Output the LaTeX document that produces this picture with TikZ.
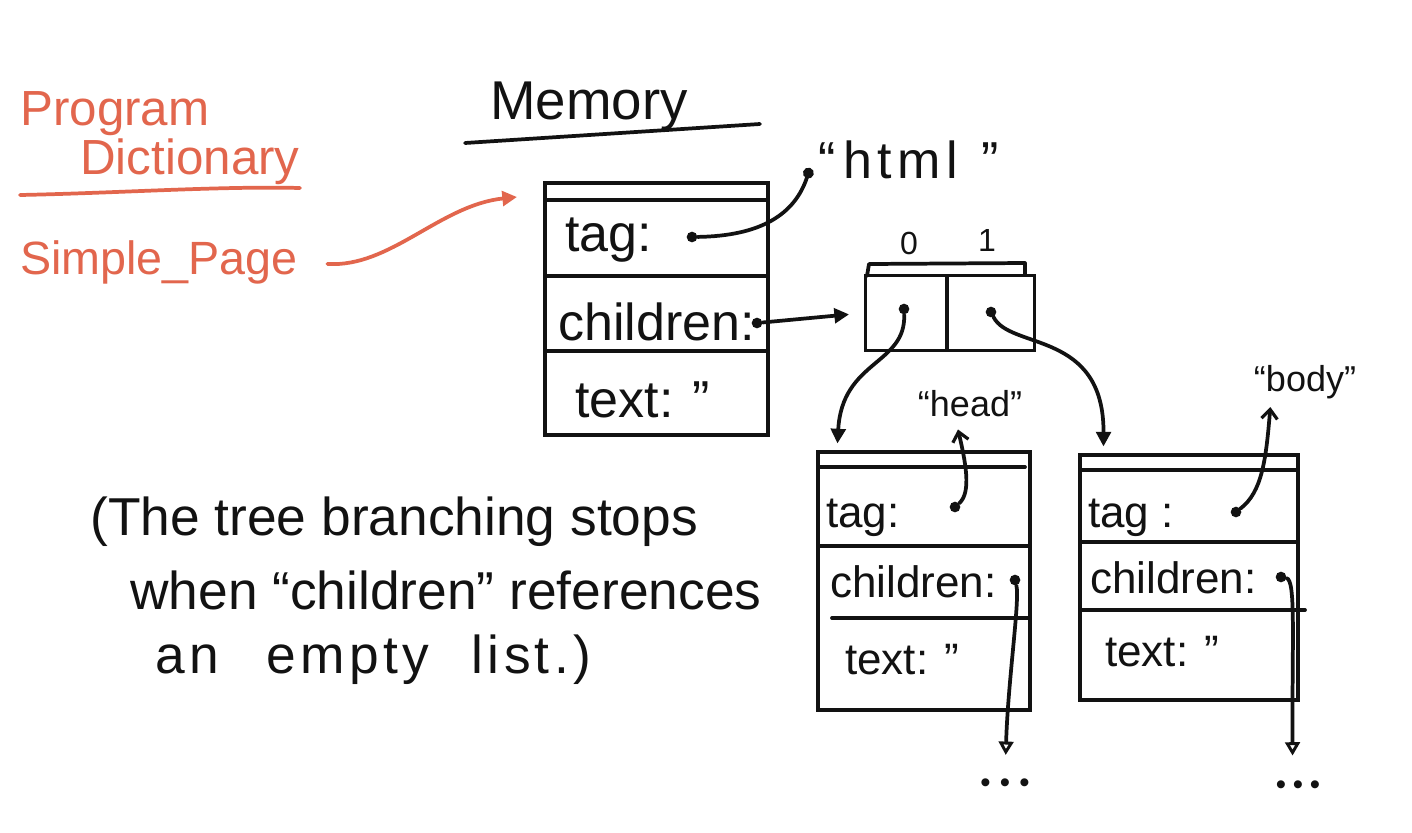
\documentclass[tikz,border=0pt]{standalone}
\usepackage{fontspec}
\setmainfont{Liberation Sans}
\usetikzlibrary{arrows.meta}
\definecolor{pen}{RGB}{18,18,18}
\definecolor{redpen}{RGB}{226,102,77}
\begin{document}
\begin{tikzpicture}[x=0.75pt,y=-0.75pt,
  ln/.style={line width=2.8pt, line cap=round, line join=round, draw=pen},
  rln/.style={line width=2.8pt, line cap=round, line join=round, draw=redpen},
  box/.style={draw=pen, line width=2.8pt, rectangle, inner sep=0pt},
  dotn/.style={circle, fill=pen, inner sep=0pt, minimum size=8pt},
  hand/.style={font={\fontsize{#1}{#1}\selectfont}, inner sep=0pt, text=pen},
  rhand/.style={font={\fontsize{#1}{#1}\selectfont}, inner sep=0pt, text=redpen},
  tri/.style={-{Triangle[length=11pt,width=11pt]}},
  otri/.style={-{Triangle[open,length=10pt,width=11pt,line width=2.2pt]}},
  barb/.style={-{Straight Barb[length=7pt,width=12pt,line width=2.4pt]}},
  dotend/.style={-{Circle[length=8pt]}}
]
\useasboundingbox[fill=white] (0,0) rectangle (1412,832);

% ---------- red program dictionary ----------
\node[rhand=37, anchor=west] (prog) at (20,114) {Program};
\node[rhand=37, anchor=west] (dict) at (80,162) {Dictionary};
\draw[rln] (20,195) .. controls (120,193) and (220,186) .. (300,188);
\node[rhand=35, anchor=west] (simple) at (20,262) {Simple\_Page};
\coordinate (memin) at (517,197);
\draw[rln, tri, shorten <=22pt] (simple.east) .. controls (390,268) and (440,205) .. (memin);

% ---------- memory title ----------
\node[hand=41, anchor=west] (memt) at (490,106) {Memory};
\draw[ln] (465,143) -- (760,124);

% ---------- main object ----------
\node[box, minimum width={223*0.75pt}, minimum height={252*0.75pt}] (mem) at (656.5,309) {};
\draw[ln] (545,200) -- (768,200);
\draw[ln] (545,276) -- (768,276);
\draw[ln] (545,351) -- (768,351);
\node[hand=39, anchor=west] (mtag) at (565,240) {tag:};
\node[hand=39, anchor=west] (mchild) at (558,322) {children:};
\node[hand=39, anchor=west] (mtext) at (575,400) {text: ”};
\node[dotn] (tagdot) at (692,237) {};
\node[dotn] (cdot) at (757,323) {};

\node[hand=39, anchor=west] (html) at (818,160) {“\kern6pt h\kern4pt t\kern4pt m\kern4pt l\kern18pt ”};
\draw[ln, dotend] (tagdot) .. controls (760,236) and (795,215) .. ([xshift=-6pt,yshift=-6pt]html.west);

% ---------- list ----------
\node[box, minimum width={169*0.75pt}, minimum height={75*0.75pt}] (arr) at (950,313) {};
\draw[ln] (867,276) -- (869,264) -- (1025,263) -- (1025,274);
\draw[ln] (947,276) -- (947,350);
\node[hand=24] (idx0) at (909,243) {0};
\node[hand=24] (idx1) at (987,240) {1};
\node[dotn] (d0) at (904,309) {};
\node[dotn] (d1) at (991,312) {};
\draw[ln, tri, shorten >=11pt] (cdot) -- (arr.west);

% ---------- head object ----------
\node[box, minimum width={212*0.75pt}, minimum height={258*0.75pt}] (head) at (924,581) {};
\draw[ln] (818,467) -- (1025,467);
\draw[ln] (818,546) -- (1030,546);
\draw[ln] (832,618) -- (1030,618);
\node[hand=33, anchor=west] (htag) at (826,518) {tag:};
\node[hand=33, anchor=west] (hchild) at (830,582) {children:};
\node[hand=33, anchor=west] (htext) at (845,660) {text: ”};
\node[dotn] (hdot) at (955,507) {};
\node[dotn] (hcdot) at (1015,580) {};
\node[hand=27] (headt) at (970,404) {“head”};

% ---------- body object ----------
\node[box, minimum width={218*0.75pt}, minimum height={245*0.75pt}] (body) at (1189,577.5) {};
\draw[ln] (1080,470) -- (1296,470);
\draw[ln] (1080,542) -- (1296,542);
\draw[ln] (1080,610) -- (1305,610);
\node[hand=33, anchor=west] (btag) at (1088,518) {tag :};
\node[hand=33, anchor=west] (bchild) at (1090,578) {children:};
\node[hand=33, anchor=west] (btext) at (1105,652) {text: ”};
\node[dotn] (bdot) at (1236,512) {};
\node[dotn] (bcdot) at (1281,577) {};
\node[hand=27] (bodyt) at (1305,382) {“body”};

% ---------- list -> objects ----------
\draw[ln, tri] (d0) .. controls (906,365) and (842,360) .. ([xshift=16pt,yshift=5pt]head.north west);
\draw[ln, tri] (d1) .. controls (1010,350) and (1104,330) .. ([xshift=19pt,yshift=5pt]body.north west);

% ---------- tag pointers ----------
\draw[ln, barb] (hdot) .. controls (972,492) and (965,460) .. ([xshift=-9pt,yshift=-9pt]headt.south);
\draw[ln, barb] (bdot) .. controls (1262,492) and (1266,460) .. ([xshift=-26pt,yshift=-6pt]bodyt.south);

% ---------- children pointers ----------
\node[hand=22] (hdots) at (1005,786) {•\hspace{7pt}•\hspace{7pt}•};
\node[hand=22] (bdots) at (1298,788) {•\hspace{5pt}•\hspace{5pt}•};
\draw[ln, otri, shorten >=18pt] (hcdot) .. controls (1020,600) and (1008,680) .. (hdots.north);
\draw[ln, otri, shorten >=19pt] (bcdot) .. controls (1296,580) and (1292,640) .. ([xshift=-4pt]bdots.north);

% ---------- note ----------
\node[hand=40, anchor=west] (note1) at (90,522) {(The tree branching stops};
\node[hand=40, anchor=west] (note2) at (130,590) {when “children” references};
\node[hand=40, anchor=west] (note3) at (155,660) {\addfontfeature{LetterSpace=8}an\hspace{36pt}empty\hspace{32pt}list.)};
\end{tikzpicture}
\end{document}
